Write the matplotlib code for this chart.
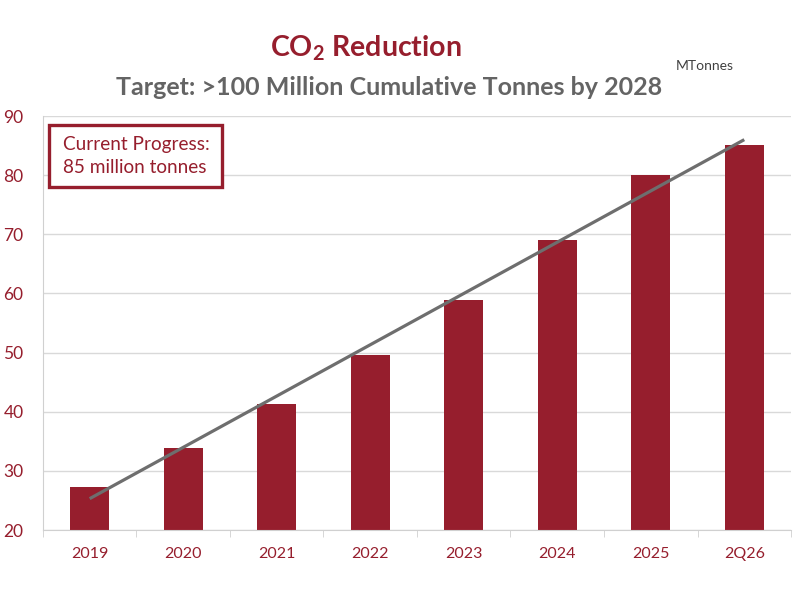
import numpy as np
import matplotlib
matplotlib.use('Agg')
import matplotlib.pyplot as plt
from matplotlib.patches import Rectangle

categories = ['2019', '2020', '2021', '2022', '2023', '2024', '2025', '2Q26']
reduction = [27.3, 33.9, 41.3, 49.6, 58.9, 69.1, 80.1, 85.1]
y_ticks = [20, 30, 40, 50, 60, 70, 80, 90]

red = '#961E2D'
grey = '#6E6E6E'

plt.rcParams['font.family'] = ['Lato', 'DejaVu Sans']
plt.rcParams['mathtext.fontset'] = 'custom'
plt.rcParams['mathtext.rm'] = 'Lato:bold'
plt.rcParams['mathtext.default'] = 'regular'

fig = plt.figure(figsize=(7.95, 5.89), dpi=100)
ax = fig.add_axes([0.054, 0.100, 0.941, 0.703])

x = np.arange(len(categories))
ax.bar(x, reduction, width=0.42, color=red, zorder=2)

# linear trend line, as in the spreadsheet
slope, intercept = np.polyfit(x, reduction, 1)
ax.plot(x, slope * x + intercept, color=grey, lw=2.3, zorder=3, solid_capstyle='butt')

ax.set_xlim(-0.5, len(categories) - 0.5)
ax.set_ylim(20, 90)
ax.set_yticks(y_ticks)
ax.set_xticks(x)
ax.set_xticklabels(categories)
ax.set_xticks(np.arange(-0.5, len(categories)), minor=True)
ax.tick_params(axis='x', which='major', length=0, pad=12, labelsize=11.5, labelcolor=red)
ax.tick_params(axis='x', which='minor', length=5, color='#D0D0D0', direction='out')
ax.tick_params(axis='y', length=0, pad=14, labelsize=12.5, labelcolor=red)
ax.grid(axis='y', color='#D9D9D9', lw=1, zorder=0)

for s in ['top', 'right']:
    ax.spines[s].set_visible(False)
ax.spines['left'].set_color('#D0D0D0')
ax.spines['bottom'].set_color('#D0D0D0')

fig.text(0.460, 0.918, 'CO$_2$ Reduction', color=red, fontsize=20.5, fontweight='bold',
         ha='center', va='center')
fig.text(0.489, 0.852, 'Target: >100 Million Cumulative Tonnes by 2028', color='#646464',
         fontsize=18, fontweight='bold', ha='center', va='center')
fig.text(0.850, 0.888, 'MTonnes', color='#404040', fontsize=10, ha='left', va='center')

# progress call-out box
ax.add_patch(Rectangle((0.008, 0.829), 0.231, 0.149, transform=ax.transAxes,
                       fc='white', ec=red, lw=2.4, zorder=5, clip_on=False))
ax.text(0.027, 0.903, 'Current Progress:\n85 million tonnes', transform=ax.transAxes,
        color=red, fontsize=13.7, ha='left', va='center', linespacing=1.45, zorder=6)

fig.savefig('out.png', dpi=100)
